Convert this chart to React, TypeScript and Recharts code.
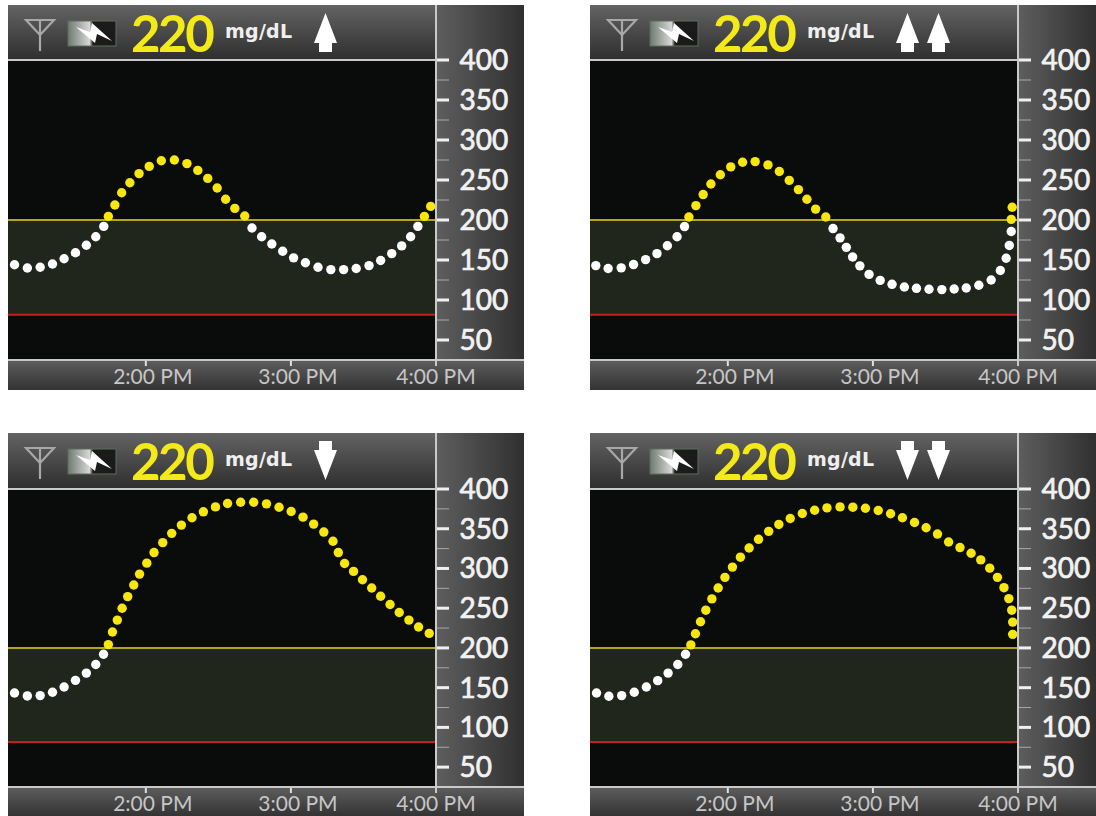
import React from "react";
import {
  ScatterChart,
  Scatter,
  XAxis,
  YAxis,
  ReferenceArea,
  ReferenceLine,
} from "recharts";

// minutes since midnight, 840 = 2:00 PM
const xTicks = [840, 900, 960];
const xLabels = ["2:00 PM", "3:00 PM", "4:00 PM"];
const yTicks = [400, 375, 350, 325, 300, 275, 250, 225, 200, 175, 150, 125, 100, 75, 50];

const HIGH_LIMIT = 200;
const LOW_LIMIT = 81.5;

const timesA = [785.7, 791, 796.3, 801.4, 806.2, 810.9, 815.4, 819.3, 822.6, 824.5, 827.2, 830, 833.4, 837.2, 841.4, 846.4, 851.8, 857, 861.5, 865.6, 869.5, 873, 876.8, 880.9, 883.9, 887.9, 892.1, 896.6, 901.1, 906, 911.2, 916.5, 921.8, 927, 932.3, 937.1, 941.7, 945.8, 949.5, 952.5, 955.2, 957.8];
const glucoseA = [144, 140, 141, 145, 151.5, 159, 168.5, 179, 192, 204.5, 218.7, 234, 246.5, 258, 267, 274, 275, 270.5, 262, 252, 240, 226, 214.5, 205, 190, 179, 170, 161, 152.7, 146.5, 141, 138, 138, 139.4, 143, 149.4, 158, 167.6, 179, 192, 204.5, 217];

const timesB = [785.4, 790.5, 795.9, 801, 806, 810.7, 815, 819, 822.1, 823.9, 826.8, 829.8, 833, 836.9, 841.2, 846.1, 851.3, 856.6, 861.3, 865.4, 869.2, 872.7, 876.3, 880.5, 883.5, 886.4, 889, 891.6, 894.6, 898.4, 903, 907.9, 913, 918, 923.2, 928.5, 933.6, 938.6, 943.8, 948.9, 952.7, 955.1, 956.4, 957.2, 957.2, 957.6];
const glucoseB = [143, 139.4, 140.2, 144.3, 150.5, 158, 167.8, 179, 191.8, 203.7, 218, 231.8, 245, 256.5, 266.4, 272.2, 273, 268.9, 260.6, 249.5, 238, 226, 213.6, 203.7, 189.3, 177.7, 165.8, 153.8, 142.7, 132, 124.5, 119.6, 116.3, 114.6, 113.4, 113, 113.8, 115, 118.4, 125, 136.9, 152.2, 168.2, 185.6, 200.8, 216];

const timesC = [785.7, 791, 796.3, 801.4, 806.2, 810.9, 815.4, 819.3, 822.5, 824.5, 826.2, 828.2, 830.2, 832.5, 835, 837.4, 840.4, 843.4, 847, 850.7, 854.7, 859.1, 863.8, 868.8, 873.8, 879.2, 884.6, 889.9, 895.1, 900.1, 905, 909.4, 913.6, 917.4, 919.6, 922.2, 925.9, 929.6, 933.4, 937.1, 941, 944.8, 948.8, 952.8, 957.2];
const glucoseC = [143.3, 139.6, 140, 144.2, 150.8, 159.2, 168.3, 179.2, 192, 204.2, 220, 235, 250, 264.6, 279.2, 292.9, 306.7, 320, 332.5, 344.2, 354.6, 363.8, 371.3, 377.5, 381.7, 383.3, 383.3, 381.3, 377, 371.7, 364.6, 355.8, 345.8, 334.2, 320, 306.3, 296.3, 285.8, 275.4, 265, 254.6, 244.6, 235, 226.3, 218.3];

const timesD = [785.7, 790.8, 796.1, 801.3, 806.3, 811, 815.3, 819.3, 822.5, 824.7, 826.6, 828.7, 830.9, 833.4, 836, 838.8, 841.9, 845.2, 848.8, 852.7, 856.9, 861.1, 865.8, 870.8, 875.9, 881, 886.4, 891.7, 896.9, 902.2, 907.3, 912.2, 917.2, 922, 926.7, 931.3, 936, 940.6, 944.6, 948.3, 951.5, 954.2, 956.2, 957.4, 957.8, 957.8];
const glucoseD = [143.3, 139.2, 140, 144.2, 150.8, 158.8, 168.3, 179.2, 192, 203.8, 217.9, 232.9, 247.5, 261.7, 275.4, 288.8, 301.7, 314.2, 325.8, 336.7, 346.7, 355.4, 362.9, 369.2, 373.3, 376.3, 377.5, 377.1, 375.8, 372.9, 368.8, 363.8, 357.9, 351.3, 343.3, 333.3, 326.3, 319.2, 310.8, 300.4, 288.8, 275.8, 262.1, 247.5, 232.5, 217.1];

const FONT = "Lato, 'Open Sans', sans-serif";
const LINE = "#c9c9c9";

const Dot = (props: any) => <circle cx={props.cx} cy={props.cy} r={4.7} fill={props.fill} />;

// recharts hands custom ticks a position 8px off the axis, hence the -8
const YTick = ({ x, y, payload }: any) => {
  const major = payload.value % 50 === 0;
  const ax = x - 8;
  return (
    <g>
      <line x1={ax} x2={ax + 13} y1={y} y2={y} stroke={major ? "#f0f0f0" : "#a8a8a8"} strokeWidth={major ? 3 : 1} />
      {major && (
        <text x={ax + 23.5} y={y + 10} fill="#f2f2f2" stroke="#f2f2f2" strokeWidth={0.7} fontSize={28} fontFamily={FONT}>
          {payload.value}
        </text>
      )}
    </g>
  );
};

const XTick = ({ x, y, payload }: any) => {
  const i = xTicks.indexOf(payload.value);
  const ay = y - 8;
  return (
    <g>
      <line x1={x} x2={x} y1={ay} y2={ay + 6} stroke="#e0e0e0" strokeWidth={2} />
      <text x={i === 2 ? x : x + 7} y={ay + 23.5} textAnchor="middle" fill="#c6c6c6" fontSize={21} fontFamily={FONT}>
        {xLabels[i]}
      </text>
    </g>
  );
};

// status bar: antenna, battery, reading, unit, trend arrows
const Header = ({ trend, count }: { trend: "up" | "down"; count: number }) => {
  const arrows = [];
  for (let i = 0; i < count; i++) {
    const points =
      trend === "up"
        ? "11.5,0 23,30 18,30 18,39 5,39 5,30 0,30"
        : "5,0 18,0 18,9 23,9 11.5,39 0,9 5,9";
    arrows.push(<polygon key={i} points={points} fill="#fff" transform={`translate(${306 + i * 31},8)`} />);
  }
  return (
    <svg width={430} height={55} style={{ position: "absolute", left: 0, top: 0, overflow: "visible" }}>
      <defs>
        <linearGradient id={`batt-${trend}-${count}`} x1="0" y1="0" x2="1" y2="0">
          <stop offset="0%" stopColor="#6f7a6f" />
          <stop offset="45%" stopColor="#d8d8d8" />
          <stop offset="52%" stopColor="#1c1c1c" />
          <stop offset="100%" stopColor="#1a1a1a" />
        </linearGradient>
      </defs>
      <g stroke="#a8a8a8" strokeWidth={2.2} fill="none">
        <path d="M18,15 L46,15 L32,30 Z" />
        <line x1={32} y1={15} x2={32} y2={46} />
      </g>
      <rect x={60} y={16} width={48} height={25} fill={`url(#batt-${trend}-${count})`} stroke="#5f6a5f" strokeWidth={1} />
      <polygon points="68,22 82,27 84,18 104,36 89,29 87,38" fill="#fff" />
      <text x={123} y={47} fill="#f4ea1a" fontSize={51} fontFamily={FONT} fontWeight={700} letterSpacing={-2.5}>
        220
      </text>
      <text x={217} y={33} fill="#efefef" fontSize={19} fontFamily={"'DejaVu Sans', sans-serif"} fontWeight={700} textLength={67}>
        mg/dL
      </text>
      {arrows}
    </svg>
  );
};

const Panel = ({ left, top, width, height, headerH, plotH, axisH, times, glucose, trend, count }: any) => {
  const plotW = 428;
  const points = times.map((time: number, i: number) => ({ time, value: glucose[i] }));
  const high = points.filter((p: any) => p.value >= HIGH_LIMIT);
  const normal = points.filter((p: any) => p.value < HIGH_LIMIT);
  const plotBottom = headerH + plotH;
  return (
    <div style={{ position: "absolute", left, top, width, height, background: "#3a3a3a" }}>
      <div style={{ position: "absolute", left: 0, top: 0, width: plotW, height: headerH, background: "linear-gradient(#636363, #2e2e2e)" }} />
      <div style={{ position: "absolute", left: plotW, top: 0, width: width - plotW, height: plotBottom, background: "linear-gradient(90deg, #5e5e5e, #303030)" }} />
      <div style={{ position: "absolute", left: 0, top: plotBottom, width, height: axisH, background: "linear-gradient(#5e5e5e, #333333)" }} />
      <Header trend={trend} count={count} />
      <div style={{ position: "absolute", left: 0, top: 0 }}>
        <ScatterChart width={width} height={height} margin={{ top: headerH, right: 0, bottom: 0, left: 0 }}>
          <XAxis
            dataKey="time"
            type="number"
            domain={[783, 960]}
            ticks={xTicks}
            interval={0}
            height={axisH}
            axisLine={false}
            tickLine={false}
            tick={<XTick />}
          />
          <YAxis
            dataKey="value"
            type="number"
            orientation="right"
            domain={[25, 400]}
            ticks={yTicks}
            interval={0}
            width={width - plotW}
            axisLine={false}
            tickLine={false}
            tick={<YTick />}
          />
          <ReferenceArea y1={25} y2={400} fill="#0a0c0c" fillOpacity={1} stroke="none" />
          <ReferenceArea y1={LOW_LIMIT} y2={HIGH_LIMIT} fill="#20261c" fillOpacity={1} stroke="none" />
          <ReferenceLine y={400} stroke={LINE} strokeWidth={2} />
          <ReferenceLine y={HIGH_LIMIT} stroke="#b3a51c" strokeWidth={2} />
          <ReferenceLine y={LOW_LIMIT} stroke="#c4201f" strokeWidth={2} />
          <Scatter data={normal} fill="#ffffff" shape={<Dot />} isAnimationActive={false} />
          <Scatter data={high} fill="#f7e60f" shape={<Dot />} isAnimationActive={false} />
        </ScatterChart>
      </div>
      <div style={{ position: "absolute", left: plotW - 1, top: 0, width: 2, height: plotBottom + 6, background: LINE }} />
      <div style={{ position: "absolute", left: 0, top: plotBottom - 1, width, height: 2, background: LINE }} />
    </div>
  );
};

export default function App() {
  return (
    <div style={{ position: "absolute", left: 0, top: 0, width: 1096, height: 816, overflow: "hidden", background: "#fff" }}>
      <Panel left={8} top={5} width={516} height={385} headerH={55} plotH={300} axisH={30} times={timesA} glucose={glucoseA} trend="up" count={1} />
      <Panel left={590} top={5} width={506} height={385} headerH={55} plotH={300} axisH={30} times={timesB} glucose={glucoseB} trend="up" count={2} />
      <Panel left={8} top={433} width={516} height={383} headerH={56} plotH={298} axisH={29} times={timesC} glucose={glucoseC} trend="down" count={1} />
      <Panel left={590} top={433} width={506} height={383} headerH={56} plotH={298} axisH={29} times={timesD} glucose={glucoseD} trend="down" count={2} />
    </div>
  );
}
